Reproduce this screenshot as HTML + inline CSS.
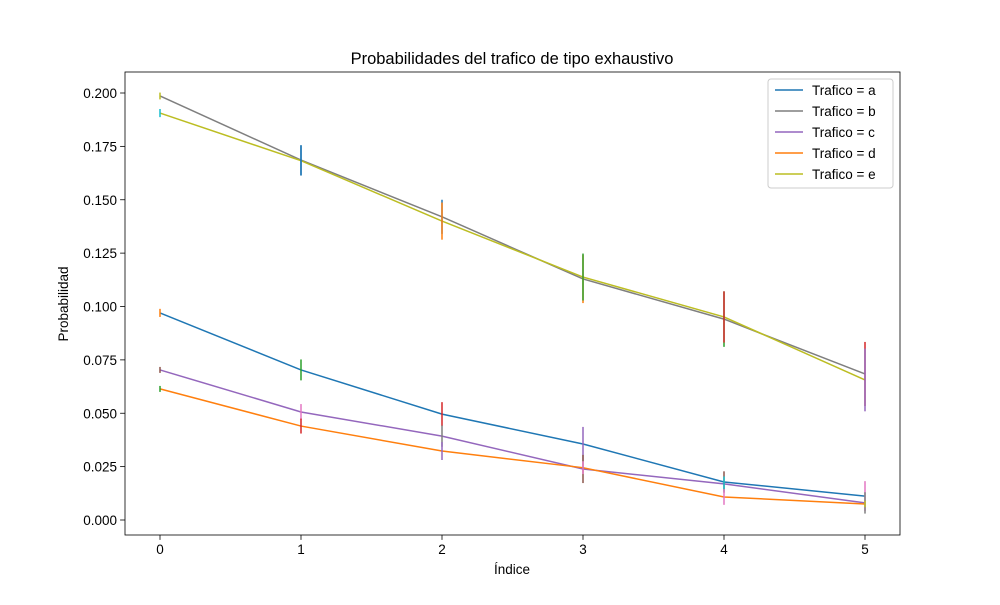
<!DOCTYPE html>
<html><head><meta charset="utf-8"><style>
body{margin:0;background:#fff;}
svg{font-family:"Liberation Sans","DejaVu Sans",sans-serif;}
</style></head><body>
<svg id="chart" width="1000" height="600" xmlns="http://www.w3.org/2000/svg"></svg>
<script>
const categories=[0,1,2,3,4,5];
const seriesNames=["Trafico = a","Trafico = b","Trafico = c","Trafico = d","Trafico = e"];
const seriesColors=["#1f77b4","#7f7f7f","#9467bd","#ff7f0e","#bcbd22"];
const valuesA=[0.097,0.0703,0.0496,0.0356,0.0178,0.0112];
const valuesB=[0.1986,0.1686,0.142,0.1129,0.0941,0.0684];
const valuesC=[0.0703,0.0506,0.0393,0.0239,0.0169,0.008];
const valuesD=[0.0614,0.044,0.0323,0.0245,0.0108,0.0075];
const valuesE=[0.1906,0.1683,0.140,0.1138,0.0951,0.0656];
const errA=[0.0019,0.0049,0.0056,0.008,0.005,0.007];
const errB=[0.0016,0.007,0.008,0.0113,0.013,0.015];
const errC=[0.0014,0.0037,0.005,0.0066,0.0035,0.005];
const errD=[0.0014,0.0035,0.0042,0.003,0.0037,0.0015];
const errE=[0.0019,0.007,0.0087,0.011,0.012,0.0147];
const errColA=["#ff7f0e","#2ca02c","#d62728","#9467bd","#8c564b","#e377c2"];
const errColB=["#bcbd22","#1f77b4","#1f77b4","#ff7f0e","#2ca02c","#d62728"];
const errColC=["#8c564b","#e377c2","#7f7f7f","#8c564b","#17becf","#7f7f7f"];
const errColD=["#2ca02c","#d62728","#9467bd","#e377c2","#e377c2","#bcbd22"];
const errColE=["#17becf","#1f77b4","#ff7f0e","#2ca02c","#d62728","#9467bd"];
const yTicks=[0,0.025,0.05,0.075,0.1,0.125,0.15,0.175,0.2];
const yTickLabels=["0.000","0.025","0.050","0.075","0.100","0.125","0.150","0.175","0.200"];

const values=[valuesA,valuesB,valuesC,valuesD,valuesE];
const errs=[errA,errB,errC,errD,errE];
const errCols=[errColA,errColB,errColC,errColD,errColE];
const L=125,R=900,T=72,B=535;
const xs=i=>160+i*141;
const ys=v=>520-v*2135;
const svg=document.getElementById('chart');
const NS="http://www.w3.org/2000/svg";
function mk(tag,attrs,txt){const e=document.createElementNS(NS,tag);for(const k in attrs)e.setAttribute(k,attrs[k]);if(txt!==undefined)e.textContent=txt;svg.appendChild(e);return e;}

let t=mk('text',{x:512,y:64,'text-anchor':'middle','font-size':16.5,fill:'#000'},"Probabilidades del trafico de tipo exhaustivo");



categories.forEach((c,i)=>{
  const x=xs(i);
  let l=mk('line',{x1:x,x2:x,y1:B,y2:B+4.9,stroke:'#000','stroke-width':0.8});
  
  
  let tx=mk('text',{x:x,y:B+19,'text-anchor':'middle','font-size':13.5},String(c));
  
  
});
yTicks.forEach((v,i)=>{
  const y=ys(v);
  let l=mk('line',{x1:L-4.9,x2:L,y1:y,y2:y,stroke:'#000','stroke-width':0.8});
  
  
  let tx=mk('text',{x:L-8,y:y+5,'text-anchor':'end','font-size':13.5},yTickLabels[i]);
  
  
});
let xl=mk('text',{x:512,y:574,'text-anchor':'middle','font-size':13.5},"Índice");


let yl=mk('text',{x:0,y:0,'text-anchor':'middle','font-size':13.5,transform:'translate(68,304) rotate(-90)'},"Probabilidad");



values.forEach((vals,s)=>{
  const pts=vals.map((v,i)=>xs(i)+','+ys(v)).join(' ');
  let p=mk('polyline',{points:pts,fill:'none',stroke:seriesColors[s],'stroke-width':1.5});
  
  
});
values.forEach((vals,s)=>{
  vals.forEach((v,i)=>{
    let e=mk('line',{x1:xs(i),x2:xs(i),y1:ys(v+errs[s][i]),y2:ys(v-errs[s][i]),stroke:errCols[s][i],'stroke-width':1.5});
    
    
  });
});

let fr=mk('rect',{x:L,y:T,width:R-L,height:B-T,fill:'none',stroke:'#000','stroke-width':0.8});



let lg=mk('rect',{x:768,y:79,width:125,height:109,rx:3,fill:'#fff','fill-opacity':0.8,stroke:'#ccc','stroke-width':1});


seriesNames.forEach((n,s)=>{
  const y=90+s*21;
  let l=mk('line',{x1:775,x2:803,y1:y,y2:y,stroke:seriesColors[s],'stroke-width':1.5});
  
  
  let tx=mk('text',{x:812,y:y+5,'font-size':13.5},n);
  
  
});
</script>
</body></html>
